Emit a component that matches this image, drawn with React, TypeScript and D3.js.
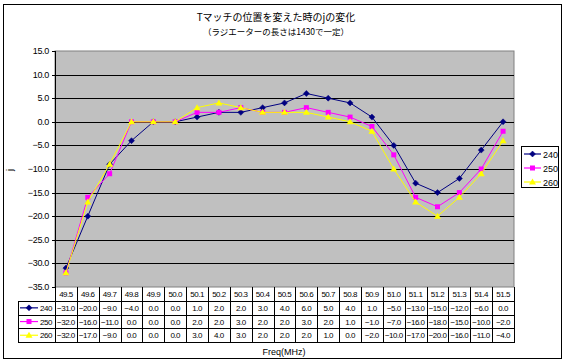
import * as d3 from "d3";

const categories = ["49.5", "49.6", "49.7", "49.8", "49.9", "50.0", "50.1", "50.2", "50.3", "50.4", "50.5", "50.6", "50.7", "50.8", "50.9", "51.0", "51.1", "51.2", "51.3", "51.4", "51.5"];

const s240 = [-31, -20, -9, -4, 0, 0, 1, 2, 2, 3, 4, 6, 5, 4, 1, -5, -13, -15, -12, -6, 0];
const s250 = [-32, -16, -11, 0, 0, 0, 2, 2, 3, 2, 2, 3, 2, 1, -1, -7, -16, -18, -15, -10, -2];
const s260 = [-32, -17, -9, 0, 0, 0, 3, 4, 3, 2, 2, 2, 1, 0, -2, -10, -17, -20, -16, -11, -4];

const yTicks = [15, 10, 5, 0, -5, -10, -15, -20, -25, -30, -35];

const series = [
  { name: "240", values: s240, color: "#000080", marker: "diamond" },
  { name: "250", values: s250, color: "#FF00FF", marker: "square" },
  { name: "260", values: s260, color: "#FFFF00", marker: "triangle" },
];

const W = 567;
const H = 364;
const plot = { left: 55, right: 514, top: 51, bottom: 287 };
const font = "'Liberation Sans', Arial, sans-serif";
const jpFont = "'Noto Sans CJK JP', sans-serif";

const fmt = (v: number) => (v < 0 ? "\u2212" : "") + Math.abs(v).toFixed(1);

function Marker({ type, x, y, color }: { type: string; x: number; y: number; color: string }) {
  if (type === "diamond") {
    return <path d={`M${x},${y - 3}L${x + 3},${y}L${x},${y + 3}L${x - 3},${y}Z`} fill={color} stroke={color} strokeWidth={0.5} />;
  }
  if (type === "square") {
    return <rect x={x - 2.5} y={y - 2.5} width={5} height={5} fill={color} />;
  }
  return <path d={`M${x},${y - 3.5}L${x + 3.5},${y + 2.5}L${x - 3.5},${y + 2.5}Z`} fill={color} />;
}

export default function App() {
  const x = d3.scaleBand<string>().domain(categories).range([plot.left, plot.right]);
  const y = d3.scaleLinear().domain([-35, 15]).range([plot.bottom, plot.top]);
  const cx = (c: string) => (x(c) ?? 0) + x.bandwidth() / 2;

  const line = d3
    .line<number>()
    .x((_, i) => cx(categories[i]))
    .y((d) => y(d));

  // table layout
  const headerTop = plot.bottom;
  const rowH = 13.7;
  const tableLeft = 18;
  const rowsTop = headerTop + 14;
  const tableBottom = rowsTop + rowH * series.length;

  return (
    <svg width={W} height={H} style={{ position: "absolute", left: 0, top: 0 }}>
      <rect x={0} y={0} width={W} height={H} fill="#fff" />
      <rect x={3.5} y={4.5} width={558} height={354} fill="#fff" stroke="#000" strokeWidth={1} />

      {/* title */}
      <text x={276} y={21} textAnchor="middle" fontFamily={jpFont} fontSize={10}>
        Tマッチの位置を変えた時のjの変化
      </text>
      <text x={276} y={35} textAnchor="middle" fontFamily={jpFont} fontSize={8.5}>
        （ラジエーターの長さは1430で一定）
      </text>

      {/* plot area */}
      <rect x={plot.left} y={plot.top} width={plot.right - plot.left} height={plot.bottom - plot.top} fill="#C0C0C0" stroke="#808080" />
      {yTicks.map((t) => (
        <g key={t}>
          {t !== 15 && t !== -35 && (
            <line x1={plot.left} x2={plot.right} y1={Math.round(y(t)) + 0.5} y2={Math.round(y(t)) + 0.5} stroke="#000" />
          )}
          <line x1={plot.left - 3} x2={plot.left} y1={Math.round(y(t)) + 0.5} y2={Math.round(y(t)) + 0.5} stroke="#000" />
          <text x={plot.left - 6} y={y(t) + 3} textAnchor="end" fontFamily={font} fontSize={9} letterSpacing={-0.3}>
            {fmt(t)}
          </text>
        </g>
      ))}
      <line x1={plot.left + 0.5} x2={plot.left + 0.5} y1={plot.top} y2={plot.bottom} stroke="#000" />

      {/* series */}
      {series.map((s) => (
        <g key={s.name}>
          <path d={line(s.values) ?? ""} fill="none" stroke={s.color} strokeWidth={1} />
          {s.values.map((v, i) => (
            <Marker key={i} type={s.marker} x={cx(categories[i])} y={y(v)} color={s.color} />
          ))}
        </g>
      ))}

      {/* y axis title */}
      <text x={13} y={170} textAnchor="middle" fontFamily={font} fontSize={9} transform="rotate(-90,13,170)">
        j
      </text>

      {/* data table */}
      <g fontFamily={font} fontSize={8} letterSpacing={-0.5}>
        {categories.map((c) => (
          <text key={c} x={cx(c)} y={headerTop + 10} textAnchor="middle">
            {c}
          </text>
        ))}
        {series.map((s, r) => {
          const top = rowsTop + r * rowH;
          const mid = top + rowH / 2;
          return (
            <g key={s.name}>
              <line x1={tableLeft + 2} x2={tableLeft + 20} y1={mid} y2={mid} stroke={s.color} strokeWidth={1.2} />
              <Marker type={s.marker} x={tableLeft + 11} y={mid} color={s.color} />
              <text x={tableLeft + 22} y={mid + 3}>{s.name}</text>
              {s.values.map((v, i) => (
                <text key={i} x={cx(categories[i])} y={mid + 3} textAnchor="middle">
                  {fmt(v)}
                </text>
              ))}
            </g>
          );
        })}
        {/* grid lines of table */}
        {categories.map((c) => (
          <line key={c} x1={Math.round(x(c) ?? 0) + 0.5} x2={Math.round(x(c) ?? 0) + 0.5} y1={headerTop} y2={tableBottom} stroke="#000" />
        ))}
        <line x1={plot.right + 0.5} x2={plot.right + 0.5} y1={headerTop} y2={tableBottom} stroke="#000" />
        <line x1={tableLeft + 0.5} x2={tableLeft + 0.5} y1={rowsTop} y2={tableBottom} stroke="#000" />
        {series.map((s, r) => (
          <line key={s.name} x1={tableLeft} x2={plot.right + 1} y1={Math.round(rowsTop + r * rowH) + 0.5} y2={Math.round(rowsTop + r * rowH) + 0.5} stroke="#000" />
        ))}
        <line x1={tableLeft} x2={plot.right + 1} y1={Math.round(tableBottom) + 0.5} y2={Math.round(tableBottom) + 0.5} stroke="#000" />
      </g>

      {/* x axis title */}
      <text x={284} y={355} textAnchor="middle" fontFamily={font} fontSize={9}>
        Freq(MHz)
      </text>

      {/* legend */}
      <rect x={521.5} y={146.5} width={37} height={41} fill="#fff" stroke="#000" />
      {series.map((s, i) => {
        const ly = 154 + i * 14;
        return (
          <g key={s.name}>
            <line x1={524} x2={541} y1={ly} y2={ly} stroke={s.color} strokeWidth={1.2} />
            <Marker type={s.marker} x={532.5} y={ly} color={s.color} />
            <text x={543} y={ly + 3.5} fontFamily={font} fontSize={9}>
              {s.name}
            </text>
          </g>
        );
      })}
    </svg>
  );
}
